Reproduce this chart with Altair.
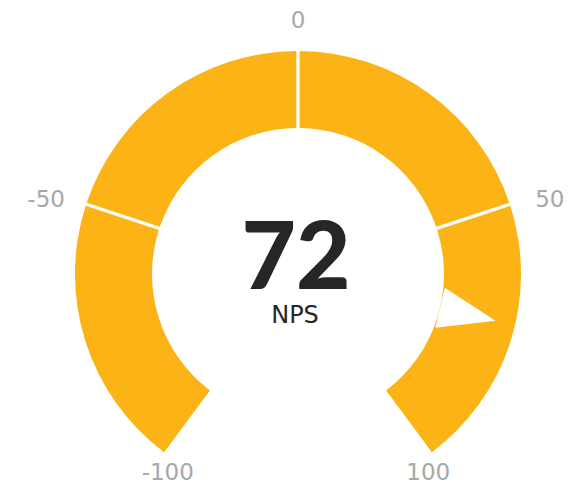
import altair as alt
import pandas as pd

# ---- data ----
seg_start = [-100, -50, 0, 50]
seg_end = [-50, 0, 50, 100]
tick_values = [-100, -50, 0, 50, 100]
tick_labels = ["-100", "-50", "0", "50", "100"]
score = [72]
score_label = ["72"]
metric_name = ["NPS"]

segs = pd.DataFrame({"start": seg_start, "end": seg_end})
ticks = pd.DataFrame({"v": tick_values, "label": tick_labels})
needle = pd.DataFrame({"v": score})
center = pd.DataFrame({"score": score_label, "name": metric_name})

W, H = 560, 476
CX, CY = 290, 266
R_OUT, R_IN = 223, 146
SPAN = 2.505  # radians for +/-100
GOLD = "#FBB315"
FONT = "Lato"
LFONT = "DejaVu Sans"

arcs = alt.Chart(segs).mark_arc(color=GOLD, padAngle=0.0124).encode(
    theta=alt.Theta("start:Q", scale=alt.Scale(domain=[-100, 100], range=[-SPAN, SPAN])),
    theta2="end:Q",
    radius=alt.value(R_OUT),
    radius2=alt.value(R_IN),
    x=alt.value(CX),
    y=alt.value(CY),
)

NR = R_IN + 28.5
needle_layer = alt.Chart(needle).transform_calculate(
    th=f"datum.v / 100 * {SPAN}"
).transform_calculate(
    nx="sin(datum.th)", ny="cos(datum.th)", deg="(datum.th * 180 / PI + 360) % 360"
).mark_point(
    shape="M0,-1L0.72,1L-0.72,1Z", filled=True, fill="white", opacity=1, strokeWidth=0, size=57 * 57
).encode(
    x=alt.X("nx:Q", scale=alt.Scale(domain=[-1, 1], range=[CX - NR, CX + NR]), axis=None),
    y=alt.Y("ny:Q", scale=alt.Scale(domain=[-1, 1], range=[CY + NR, CY - NR]), axis=None),
    angle=alt.Angle("deg:Q", scale=None),
)

labels = alt.Chart(ticks).transform_calculate(
    av="abs(datum.v)"
).mark_text(
    font=LFONT, fontSize=23, color="#a8a8a8", align="center", baseline="middle", dy=2
).encode(
    theta=alt.Theta("v:Q", scale=alt.Scale(domain=[-100, 100], range=[-2.557, 2.557])),
    radius=alt.Radius("av:Q", scale=alt.Scale(type="linear", domain=[0, 50, 100], range=[255, 263, 236])),
    text="label:N",
    x=alt.value(CX),
    y=alt.value(CY),
)

big = alt.Chart(center).mark_text(
    font=FONT, fontSize=94, fontWeight=900, color="#262626", align="center", baseline="alphabetic"
).encode(text="score:N", x=alt.value(288), y=alt.value(281))

small = alt.Chart(center).mark_text(
    font=LFONT, fontSize=24, color="#262626", align="center", baseline="alphabetic"
).encode(text="name:N", x=alt.value(287), y=alt.value(315))

chart = alt.layer(arcs, needle_layer, labels, big, small).resolve_scale(
    theta="independent", radius="independent"
).properties(
    width=W, height=H, autosize=alt.AutoSizeParams(type="none"), padding=0
).configure_view(stroke=None)

chart.save("out.html", embed_options={"renderer": "svg", "actions": False})
